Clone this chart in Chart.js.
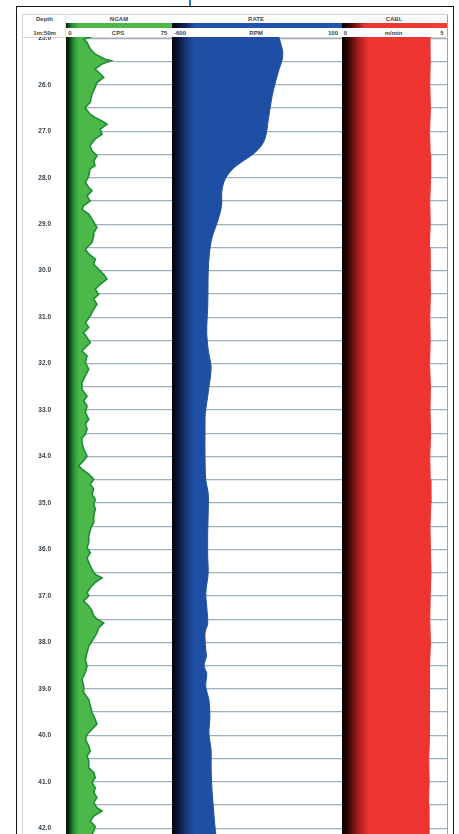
<!DOCTYPE html>
<html>
<head>
<meta charset="utf-8">
<script src="https://cdn.jsdelivr.net/npm/chart.js@4.4.0/dist/chart.umd.min.js"></script>
<style>
  html, body { margin: 0; padding: 0; background: #fff; width: 459px; height: 834px; overflow: hidden; }
  body { position: relative; font-family: "Liberation Sans", Arial, sans-serif; }
  .abs { position: absolute; }
  .lbl { position: absolute; transform: translate(-50%, -50%); white-space: nowrap;
         font-size: 6px; font-weight: bold; color: #3a4655; line-height: 1; }
  canvas { position: absolute; display: block; }
</style>
</head>
<body>
<!-- outer frame and panel lines -->
<div class="abs" style="left:189px;top:0;width:2px;height:7px;background:#2b7cc0"></div>
<div class="abs" style="left:16px;top:6px;width:436px;height:860px;border:1.5px solid #151515"></div>
<div class="abs" style="left:22px;top:14px;width:1px;height:830px;background:#dccfd1"></div>
<div class="abs" style="left:447px;top:14px;width:1px;height:830px;background:#98a4b0"></div>
<div class="abs" style="left:22px;top:14px;width:426px;height:1px;background:#dccfd1"></div>
<div class="abs" style="left:22px;top:37px;width:426px;height:1px;background:#dccfd1"></div>
<div class="abs" style="left:65px;top:14px;width:1px;height:23px;background:#e2d6d7"></div>

<!-- header: curve names, colour keys, scales -->
<div class="lbl" style="left:44.5px;top:18.5px">Depth</div>
<div class="lbl" style="left:119px;top:18.5px">NGAM</div>
<div class="lbl" style="left:256px;top:18.5px">RATE</div>
<div class="lbl" style="left:394px;top:18.5px">CABL</div>

<div class="abs" style="left:66px;top:23px;width:106px;height:5px;background:linear-gradient(to right,#0a240d 0%,#2a8c35 6%,#4cb84a 12%,#4cb84a 100%)"></div>
<div class="abs" style="left:172px;top:23px;width:170px;height:5px;background:linear-gradient(to right,#000 0%,#0c1c4a 6%,#1f55ae 14%,#1f55ae 100%)"></div>
<div class="abs" style="left:342px;top:23px;width:105px;height:5px;background:linear-gradient(to right,#000 0%,#5a0d0b 10%,#e8372f 22%,#ef3b32 100%)"></div>

<div class="lbl" style="left:44.5px;top:32.5px">1m:50m</div>
<div class="lbl" style="left:70px;top:32.5px">0</div>
<div class="lbl" style="left:118px;top:32.5px">CPS</div>
<div class="lbl" style="left:164px;top:32.5px">75</div>
<div class="lbl" style="left:180px;top:32.5px">-600</div>
<div class="lbl" style="left:256px;top:32.5px">RPM</div>
<div class="lbl" style="left:333px;top:32.5px">100</div>
<div class="lbl" style="left:345.5px;top:32.5px">0</div>
<div class="lbl" style="left:393.5px;top:32.5px">m/min</div>
<div class="lbl" style="left:442px;top:32.5px">5</div>

<canvas id="ngam" width="149" height="797" style="left:23px;top:37px"></canvas>
<canvas id="rate" width="170" height="797" style="left:172px;top:37px"></canvas>
<canvas id="cabl" width="105" height="797" style="left:342px;top:37px"></canvas>

<script>
// Depth window shown in the log (metres) and the 0.5 m grid
const depthTop = 24.97;
const depthBottom = 42.125;
const depthTicks = [25.0, 25.5, 26.0, 26.5, 27.0, 27.5, 28.0, 28.5, 29.0, 29.5, 30.0, 30.5,
  31.0, 31.5, 32.0, 32.5, 33.0, 33.5, 34.0, 34.5, 35.0, 35.5, 36.0, 36.5, 37.0, 37.5,
  38.0, 38.5, 39.0, 39.5, 40.0, 40.5, 41.0, 41.5, 42.0];

// NGAM natural gamma (CPS)
const ngamDepth = [24.97, 25.02, 25.09, 25.23, 25.34, 25.45, 25.48, 25.55, 25.66, 25.73, 25.84, 25.95,
  26.06, 26.20, 26.38, 26.49, 26.63, 26.70, 26.80, 26.85, 26.95, 27.06, 27.17, 27.31, 27.42, 27.53,
  27.64, 27.74, 27.81, 27.96, 28.10, 28.21, 28.28, 28.39, 28.50, 28.60, 28.68, 28.78, 28.89, 29.00,
  29.07, 29.18, 29.25, 29.39, 29.54, 29.64, 29.75, 29.86, 29.97, 30.08, 30.18, 30.29, 30.40, 30.51,
  30.61, 30.72, 30.83, 30.97, 31.12, 31.22, 31.33, 31.44, 31.55, 31.65, 31.73, 31.83, 31.98, 32.12,
  32.26, 32.41, 32.55, 32.70, 32.80, 32.91, 33.05, 33.20, 33.30, 33.41, 33.52, 33.60, 33.70, 33.84,
  33.99, 34.09, 34.20, 34.27, 34.38, 34.49, 34.60, 34.70, 34.81, 34.92, 35.03, 35.13, 35.28, 35.42,
  35.57, 35.71, 35.85, 35.96, 36.07, 36.18, 36.28, 36.43, 36.54, 36.61, 36.71, 36.82, 36.93, 37.00,
  37.11, 37.22, 37.32, 37.43, 37.50, 37.58, 37.69, 37.79, 37.86, 37.97, 38.08, 38.22, 38.36, 38.51,
  38.65, 38.79, 38.94, 39.08, 39.23, 39.37, 39.51, 39.66, 39.76, 39.87, 39.98, 40.09, 40.23, 40.34,
  40.45, 40.55, 40.70, 40.80, 40.91, 41.02, 41.13, 41.23, 41.34, 41.45, 41.56, 41.63, 41.74, 41.85,
  41.96, 42.06, 42.13];
const ngamCps = [18.0, 12.5, 14.9, 17.2, 20.7, 27.6, 31.8, 25.5, 20.5, 23.1, 26.7, 21.9,
  20.5, 18.4, 17.0, 13.4, 17.0, 20.5, 26.7, 29.0, 24.1, 25.5, 20.5, 17.0, 18.4, 21.9,
  19.6, 20.5, 17.0, 16.1, 13.7, 16.1, 18.4, 14.9, 17.0, 12.5, 11.3, 16.1, 18.4, 20.5,
  21.9, 19.6, 19.6, 18.4, 13.7, 16.1, 20.7, 19.6, 23.1, 26.7, 29.0, 24.3, 20.7, 23.1,
  19.6, 21.9, 19.6, 17.2, 13.7, 16.1, 12.5, 14.9, 17.2, 13.7, 11.3, 14.9, 13.7, 16.1,
  13.7, 11.3, 11.3, 14.9, 12.5, 14.9, 13.7, 16.1, 13.7, 14.9, 13.7, 11.3, 11.3, 12.5,
  14.9, 12.5, 9.0, 11.3, 16.1, 19.6, 17.2, 19.6, 18.4, 20.7, 19.6, 20.7, 19.6, 19.6,
  17.2, 16.1, 16.1, 14.9, 17.2, 14.9, 16.1, 18.4, 20.7, 25.5, 20.7, 17.2, 14.9, 16.1,
  12.5, 16.1, 18.4, 19.6, 21.9, 26.7, 23.1, 21.9, 20.7, 18.4, 16.1, 14.9, 13.7, 14.9,
  13.7, 11.3, 12.5, 12.5, 16.1, 17.2, 18.4, 20.7, 21.9, 18.4, 14.9, 13.7, 16.1, 17.2,
  14.9, 16.1, 16.1, 19.6, 20.7, 18.4, 20.7, 19.6, 21.9, 19.6, 21.9, 25.5, 19.6, 17.2,
  20.7, 19.6, 18.4];

// RATE rotation (RPM)
const rateDepth = [24.97, 25.15, 25.30, 25.45, 25.60, 25.75, 26.00, 26.25, 26.50, 26.80, 27.00, 27.20,
  27.35, 27.50, 27.65, 27.80, 27.95, 28.10, 28.30, 28.60, 28.90, 29.20, 29.40, 29.70, 30.05, 30.50,
  30.80, 31.10, 31.35, 31.70, 31.90, 32.06, 32.30, 32.50, 32.71, 33.07, 33.43, 34.00, 34.50, 34.79,
  35.22, 35.65, 36.15, 36.51, 36.94, 37.23, 37.59, 37.80, 38.16, 38.30, 38.45, 38.55, 38.66, 38.95,
  39.24, 39.60, 39.96, 40.32, 40.68, 41.11, 41.54, 41.97, 42.13];
const rateRpm = [-160, -150, -144, -146, -155, -164, -177, -188, -196, -205, -210, -220,
  -238, -268, -310, -348, -372, -387, -395, -396, -410, -430, -440, -447, -451, -452,
  -453, -456, -457, -451, -444, -439, -442, -448, -453, -463, -464, -464, -461, -451,
  -451, -453, -453, -451, -461, -457, -453, -464, -461, -458, -467, -466, -457, -461,
  -448, -444, -448, -439, -439, -436, -430, -423, -420];

// CABL cable speed (m/min)
const cablDepth = [24.97, 25.5, 26.0, 26.5, 27.0, 27.5, 28.0, 28.5, 29.0, 29.5, 30.0, 30.5, 31.0,
  31.5, 32.0, 32.5, 33.0, 33.5, 34.0, 34.5, 35.0, 35.5, 36.0, 36.5, 37.0, 37.5, 38.0, 38.5,
  39.0, 39.5, 40.0, 40.5, 41.0, 41.5, 42.0, 42.13];
const cablSpeed = [4.19, 4.20, 4.18, 4.21, 4.17, 4.20, 4.22, 4.18, 4.20, 4.16, 4.19, 4.21, 4.18,
  4.20, 4.17, 4.21, 4.19, 4.22, 4.18, 4.20, 4.23, 4.19, 4.21, 4.24, 4.20, 4.18, 4.21, 4.17,
  4.19, 4.15, 4.16, 4.13, 4.15, 4.12, 4.14, 4.13];

const gridColor = '#a0afbc';

function toPoints(depths, values) {
  return depths.map((d, i) => ({ x: values[i], y: d }));
}

// horizontal colour ramp across the track, from the dark left edge into the fill colour
function trackGradient(stops) {
  return (context) => {
    const chart = context.chart;
    const area = chart.chartArea;
    if (!area) return stops[stops.length - 1][1];
    const g = chart.ctx.createLinearGradient(area.left, 0, area.right, 0);
    stops.forEach(([o, c]) => g.addColorStop(o, c));
    return g;
  };
}

function depthScale(showLabels) {
  return {
    type: 'linear',
    reverse: true,
    min: depthTop,
    max: depthBottom,
    position: 'left',
    afterBuildTicks: (s) => { s.ticks = depthTicks.map((v) => ({ value: v })); },
    afterFit: (s) => {
      // fixed-width depth column; keep the track flush with the canvas top and bottom
      s.width = showLabels ? 43 : 0;
      s.paddingTop = 0;
      s.paddingBottom = 0;
    },
    grid: { color: gridColor, lineWidth: 1.2, drawTicks: false },
    border: { display: false },
    ticks: showLabels ? {
      display: true,
      autoSkip: false,
      padding: 15,
      crossAlign: 'near',
      color: '#33404e',
      font: { family: '"Liberation Sans", Arial, sans-serif', size: 6.5, weight: 'bold' },
      callback: (v) => (Number.isInteger(v) ? v.toFixed(1) : '')
    } : { display: false }
  };
}

function trackChart(id, cfg) {
  return new Chart(document.getElementById(id), {
    type: 'line',
    data: {
      datasets: [{
        data: toPoints(cfg.depths, cfg.values),
        borderColor: cfg.line,
        borderWidth: cfg.lineWidth,
        backgroundColor: trackGradient(cfg.stops),
        fill: { value: cfg.min },
        pointRadius: 0,
        tension: cfg.tension
      }]
    },
    options: {
      indexAxis: 'y',
      responsive: false,
      animation: false,
      events: [],
      layout: { padding: 0, autoPadding: false },
      plugins: { legend: { display: false }, tooltip: { enabled: false } },
      scales: {
        x: { type: 'linear', min: cfg.min, max: cfg.max, display: false },
        y: depthScale(cfg.depthLabels)
      }
    }
  });
}

trackChart('ngam', {
  depths: ngamDepth, values: ngamCps, min: 0, max: 75, depthLabels: true,
  line: '#1c8c36', lineWidth: 1.6, tension: 0,
  stops: [[0, '#061408'], [0.025, '#0a2a0e'], [0.06, '#1f7a2c'], [0.1, '#3daa45'], [0.13, '#4cb84a'], [1, '#4cb84a']]
});

trackChart('rate', {
  depths: rateDepth, values: rateRpm, min: -600, max: 100, depthLabels: false,
  line: '#1f4fa5', lineWidth: 1, tension: 0.3,
  stops: [[0, '#04060c'], [0.03, '#080f2a'], [0.08, '#16357a'], [0.13, '#1f4fa5'], [1, '#1f4fa5']]
});

trackChart('cabl', {
  depths: cablDepth, values: cablSpeed, min: 0, max: 5, depthLabels: false,
  line: '#ee3431', lineWidth: 1, tension: 0,
  stops: [[0, '#050000'], [0.05, '#2a0505'], [0.15, '#a01a18'], [0.25, '#ee3431'], [1, '#ee3431']]
});
</script>
</body>
</html>
